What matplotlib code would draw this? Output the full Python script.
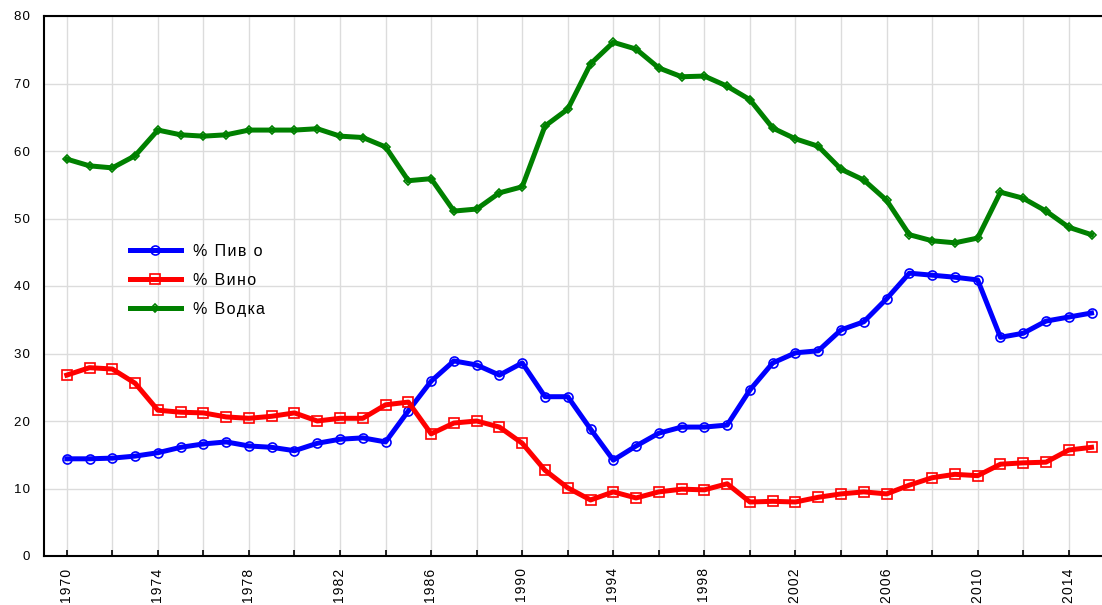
import matplotlib
matplotlib.use("Agg")
import matplotlib.pyplot as plt
import numpy as np

years = list(range(1970, 2016))
beer = [14.4, 14.4, 14.5, 14.8, 15.3, 16.1, 16.6, 16.9, 16.3, 16.1,
        15.6, 16.7, 17.3, 17.5, 16.9, 21.5, 25.9, 28.9, 28.3, 26.8,
        28.6, 23.6, 23.6, 18.8, 14.2, 16.3, 18.2, 19.1, 19.1, 19.4,
        24.6, 28.6, 30.1, 30.4, 33.5, 34.7, 38.1, 41.9, 41.6, 41.3,
        40.9, 32.4, 33.0, 34.8, 35.4, 36.0]
wine = [26.8, 27.9, 27.7, 25.6, 21.6, 21.3, 21.2, 20.6, 20.4, 20.7,
        21.2, 20.0, 20.4, 20.4, 22.4, 22.8, 18.1, 19.7, 20.0, 19.1,
        16.7, 12.7, 10.1, 8.3, 9.5, 8.6, 9.5, 9.9, 9.8, 10.7,
        8.0, 8.1, 8.0, 8.7, 9.2, 9.5, 9.2, 10.5, 11.6, 12.1,
        11.9, 13.6, 13.8, 13.9, 15.7, 16.1]
vodka = [58.8, 57.8, 57.5, 59.3, 63.1, 62.4, 62.2, 62.4, 63.1, 63.1,
         63.1, 63.3, 62.2, 62.0, 60.6, 55.6, 55.9, 51.1, 51.4, 53.8,
         54.7, 63.7, 66.2, 72.9, 76.1, 75.1, 72.3, 71.0, 71.1, 69.6,
         67.6, 63.4, 61.8, 60.7, 57.3, 55.7, 52.7, 47.6, 46.7, 46.4,
         47.1, 53.9, 53.0, 51.1, 48.7, 47.6]
labels = ["% Пив о", "% Вино", "% Водка"]
colors = ["#0000ff", "#ff0000", "#008000"]
markers = ["o", "s", "D"]
msizes = [6.5, 6.5, 4.0]

plt.rcParams['font.family'] = ['Liberation Sans', 'DejaVu Sans']

HS = "\u200a"


def spaced(s):
    return HS.join(s)


fig = plt.figure(figsize=(11.02, 6.05), dpi=100)
ax = fig.add_axes([44/1102, 1-556/605, 1-44/1102, (556-16)/605])

for vals, lab, c, m, ms in zip([beer, wine, vodka], labels, colors, markers, msizes):
    ax.plot(years, vals, color=c, lw=3.6, marker=m, markersize=ms,
            markerfacecolor='none', markeredgecolor=c, markeredgewidth=1.2,
            label=spaced(lab), zorder=3)

ax.set_xlim(1969.0, 2015.46)
ax.set_ylim(0, 80)
xt = list(range(1970, 2016, 2))
ax.set_xticks(xt)
ax.set_xticklabels([spaced(str(y)) if (y - 1970) % 4 == 0 else "" for y in xt],
                   rotation=90, fontsize=10)
ax.set_yticks(range(0, 81, 10))
ax.set_yticklabels([spaced(str(v)) for v in range(0, 81, 10)], fontsize=9.5)
ax.tick_params(axis='x', direction='in', length=4, width=1.2, pad=9)
ax.tick_params(axis='y', direction='in', length=0, pad=10)
ax.grid(True, color='#dcdcdc', lw=1.0, zorder=0)
ax.set_axisbelow(True)
for s in ['left', 'bottom', 'top']:
    ax.spines[s].set_linewidth(1.5)
    ax.spines[s].set_color('black')
ax.spines['right'].set_visible(False)

leg = ax.legend(loc='upper left', bbox_to_anchor=(0.068, 0.605), frameon=False,
                fontsize=11.5, handlelength=3.15, labelspacing=0.88,
                handletextpad=0.75)

fig.savefig("out.png", dpi=100)
